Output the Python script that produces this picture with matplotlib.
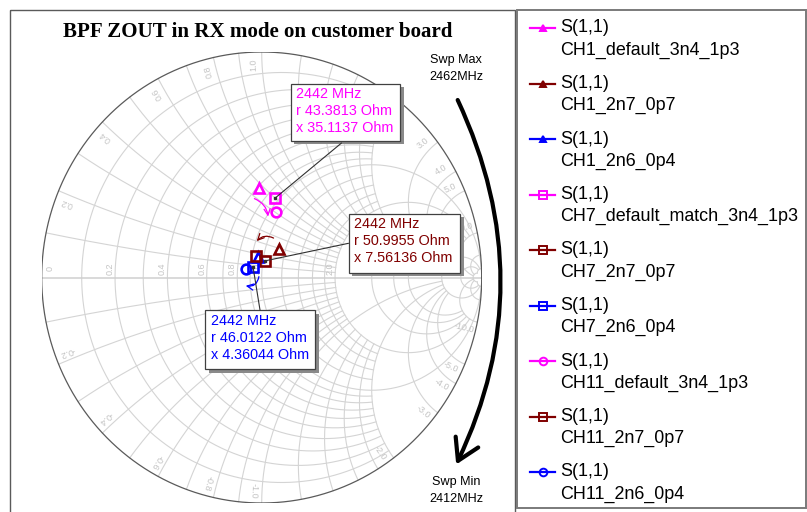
import numpy as np
import matplotlib
matplotlib.use("Agg")
import matplotlib.pyplot as plt
from matplotlib.patches import FancyArrowPatch, Rectangle, ConnectionPatch
from matplotlib.lines import Line2D

# ---------------- data ----------------
Z0 = 50.0
trace_label = "S(1,1)"
series_names = ["CH1_default_3n4_1p3", "CH1_2n7_0p7", "CH1_2n6_0p4",
                "CH7_default_match_3n4_1p3", "CH7_2n7_0p7", "CH7_2n6_0p4",
                "CH11_default_3n4_1p3", "CH11_2n7_0p7", "CH11_2n6_0p4"]
resistance_ohm = [35.6, 56.7, 47.4, 43.3813, 50.9955, 46.0122, 47.6, 46.6, 43.1]
reactance_ohm = [33.6, 14.5, 8.8, 35.1137, 7.56136, 4.36044, 30.2, 9.1, 3.3]
series_colors = ["#FF00FF", "#800000", "#0000FF",
                 "#FF00FF", "#800000", "#0000FF",
                 "#FF00FF", "#800000", "#0000FF"]
series_markers = ["^", "^", "^", "s", "s", "s", "o", "s", "o"]
marker_series = [3, 4, 5]          # series carrying the 2442 MHz readout
marker_freq_mhz = 2442
sweep_min_mhz = 2412
sweep_max_mhz = 2462
title = "BPF ZOUT in RX mode on customer board"

SANS = "Liberation Sans"
SERIF = "Liberation Serif"
GRID = "#d4d4d4"
LABEL = "#c4c4c4"

W, H = 807, 512
fig = plt.figure(figsize=(W / 100, H / 100), dpi=100)
fig.patch.set_facecolor("white")

# Smith chart axes (reflection-coefficient plane)
cx_px, cy_px, rx_px, ry_px = 261.7, 277.5, 220.0, 225.5
ax = fig.add_axes([(cx_px - rx_px) / W, (H - cy_px - ry_px) / H,
                   2 * rx_px / W, 2 * ry_px / H])
ax.set_xlim(-1, 1)
ax.set_ylim(-1, 1)
ax.axis("off")

# full-figure overlay in pixel units for panel decorations
ov = fig.add_axes([0, 0, 1, 1], zorder=5)
ov.set_xlim(0, W)
ov.set_ylim(H, 0)
ov.axis("off")
ov.patch.set_visible(False)


def gam(z):
    return (z - 1) / (z + 1)


def r_circle(r, xmax):
    a = np.arctan(xmax) if np.isfinite(xmax) else np.pi / 2 - 1e-4
    t = np.linspace(-a, a, 700)
    g = gam(r + 1j * np.tan(t))
    return g.real, g.imag


def x_arc(x, rmax):
    b = np.arctan(rmax) if np.isfinite(rmax) else np.pi / 2 - 1e-4
    s = np.linspace(0, b, 500)
    g = gam(np.tan(s) + 1j * x)
    return g.real, g.imag


# resistance circles: (value, reactance limit)
r_grid = ([(v, 2.0) for v in (0.1, 0.2, 0.3, 0.4, 0.5, 0.6, 0.7, 0.8, 0.9)]
          + [(1.0, np.inf)]
          + [(v, 2.0) for v in (1.2, 1.4, 1.6, 1.8)]
          + [(v, 10.0) for v in (2.0, 3.0, 4.0, 5.0)]
          + [(v, 50.0) for v in (10.0, 20.0, 50.0)])
# reactance arcs: (value, resistance limit)
x_grid = ([(v, 2.0) for v in (0.1, 0.2, 0.3, 0.4, 0.5, 0.6, 0.7, 0.8, 0.9)]
          + [(1.0, 10.0)]
          + [(v, 2.0) for v in (1.2, 1.4, 1.6, 1.8)]
          + [(v, 10.0) for v in (2.0, 3.0, 4.0, 5.0)]
          + [(v, 50.0) for v in (10.0, 20.0, 50.0)])

for r, xm in r_grid:
    gx, gy = r_circle(r, xm)
    ax.plot(gx, gy, color=GRID, lw=0.8, zorder=1)
for xv, rm in x_grid:
    for sgn in (1, -1):
        gx, gy = x_arc(sgn * xv, rm)
        ax.plot(gx, gy, color=GRID, lw=0.8, zorder=1)
ax.plot([-1, 1], [0, 0], color="#cfcfcf", lw=1.1, zorder=1)
th = np.linspace(0, 2 * np.pi, 800)
ax.plot(np.cos(th), np.sin(th), color="#5a5a5a", lw=0.9, zorder=2)

# rim labels (reactance)
px_x = 2.0 / (2 * rx_px)
px_y = 2.0 / (2 * ry_px)
for xv in (0.2, 0.4, 0.6, 0.8, 1.0, 2.0, 3.0, 4.0, 5.0, 10.0):
    for sgn in (1, -1):
        g = gam(1j * sgn * xv)
        ang = np.angle(g) + sgn * np.radians(2.2)
        rr = 0.945
        ax.text(rr * np.cos(ang), rr * np.sin(ang), f"{sgn * xv:.1f}",
                rotation=np.degrees(ang), rotation_mode="anchor",
                ha="center", va="center", fontsize=6.5, color=LABEL,
                family=SANS, zorder=1.5)

# real-axis labels (resistance)
for rv in (0.0, 0.2, 0.4, 0.6, 0.8, 1.0, 2.0):
    gx = (rv - 1) / (rv + 1)
    dx = 8 if rv == 0 else -5
    ax.text(gx + dx * px_x, 9 * px_y, "0" if rv == 0 else f"{rv:.1f}",
            rotation=90, ha="center", va="center", fontsize=6.5,
            color=LABEL, family=SANS, zorder=1.5)

# data points
gpts = []
for r_o, x_o, col, mk in zip(resistance_ohm, reactance_ohm,
                             series_colors, series_markers):
    g = gam(complex(r_o, x_o) / Z0)
    gpts.append(g)
    ax.plot([g.real], [g.imag], linestyle="none", marker=mk,
            ms=7.6 if mk == "^" else 7.0,
            mfc="none", mec=col, mew=1.9, zorder=4)

# sweep-direction arrows between channel points
small_arrows = [((-0.045, 0.354), (0.030, 0.258), -0.35, "#FF00FF"),
                ((0.065, 0.169), (-0.031, 0.152), 0.45, "#800000"),
                ((-0.011, 0.016), (-0.085, -0.034), -0.6, "#0000FF")]
for a, b, rad, col in small_arrows:
    ax.add_patch(FancyArrowPatch(a, b, connectionstyle=f"arc3,rad={rad}",
                                 arrowstyle="->,head_length=0.45,head_width=0.22",
                                 mutation_scale=10, lw=0.9, color=col,
                                 zorder=3))

# marker readout boxes
boxes = [  # left, top, right, bottom, leader end (x, y)
    (290.7, 83.5, 400.0, 140.7, (341.5, 143.0)),
    (348.5, 213.5, 460.0, 272.5, (348.5, 243.3)),
    (205.3, 310.0, 315.0, 369.0, (260.0, 310.0)),
]
for idx, (l, t, rgt, btm, lead) in zip(marker_series, boxes):
    col = series_colors[idx]
    g = gpts[idx]
    con = ConnectionPatch(xyA=(g.real, g.imag), coordsA=ax.transData,
                          xyB=lead, coordsB=ov.transData,
                          color="#303030", lw=0.8, zorder=6)
    fig.add_artist(con)
    ax.plot([g.real], [g.imag], marker="s", ms=1.6, color="#303030",
            linestyle="none", zorder=5)
    ov.add_patch(Rectangle((l + 3.5, t + 3.5), rgt - l, btm - t,
                           facecolor="#8a8a8a", edgecolor="none", zorder=6))
    ov.add_patch(Rectangle((l, t), rgt - l, btm - t, facecolor="white",
                           edgecolor="#404040", lw=0.9, zorder=7))
    lines = [f"{marker_freq_mhz} MHz",
             f"r {resistance_ohm[idx]:g} Ohm",
             f"x {reactance_ohm[idx]:g} Ohm"]
    for k, s in enumerate(lines):
        ov.text(l + 5.5, t + 11 + 16.8 * k, s, color=col, fontsize=10.4,
                family=SANS, ha="left", va="center", zorder=8)

# panel frames
ov.add_patch(Rectangle((9.5, 10), 505.5, 520, facecolor="none",
                       edgecolor="#5a5a5a", lw=1.0, zorder=1))
ov.add_patch(Rectangle((517, 10), 288.5, 498, facecolor="white",
                       edgecolor="#7a7a7a", lw=1.4, zorder=1))

# title
ov.text(258, 32, title, fontsize=15.1, fontweight="bold", family=SERIF,
        ha="center", va="center", color="black")

# sweep annotation
for ty, s in ((60, "Swp Max"), (77.5, f"{sweep_max_mhz}MHz"),
              (481.5, "Swp Min"), (498.5, f"{sweep_min_mhz}MHz")):
    ov.text(456, ty, s, fontsize=9.1, family=SANS, ha="center", va="center")
ov.add_patch(FancyArrowPatch((456.5, 97.5), (455.0, 467.0),
                             connectionstyle="arc3,rad=-0.24",
                             arrowstyle="->,head_length=0.75,head_width=0.45",
                             mutation_scale=20, lw=3.0, color="black",
                             zorder=4))

# legend
row0, row_step = 28.0, 55.5
for i, (name, col, mk) in enumerate(zip(series_names, series_colors,
                                        series_markers)):
    y = row0 + row_step * i
    ov.add_line(Line2D([530, 555], [y, y], color=col, lw=1.6, zorder=3))
    filled = mk == "^"
    ov.add_line(Line2D([542.5], [y], marker=mk, ms=5.0 if filled else 5.5,
                       mfc=col if filled else "none", mec=col, mew=1.4,
                       linestyle="none", zorder=4))
    ov.text(560, y, trace_label, fontsize=12.9, family=SANS, ha="left",
            va="center", zorder=4)
    ov.text(560, y + 22, name, fontsize=12.9, family=SANS, ha="left",
            va="center", zorder=4)

fig.savefig("out.png", dpi=100, facecolor="white")
